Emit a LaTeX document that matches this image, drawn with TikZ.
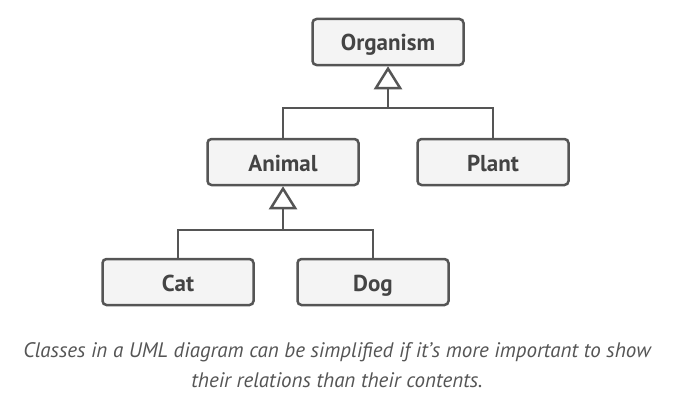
\documentclass[tikz,border=0pt]{standalone}
\usepackage{fontspec}
\setmainfont{PT Sans}
\usetikzlibrary{arrows.meta}

\definecolor{boxline}{HTML}{555555}
\definecolor{boxfill}{HTML}{F4F4F4}
\definecolor{boxtext}{HTML}{444444}
\definecolor{captext}{HTML}{555555}

\tikzset{
    classbox/.style={draw=boxline, fill=boxfill, line width=2.5pt, rounded corners=4pt,
        minimum width=151pt, minimum height=46pt, text=boxtext, inner sep=0pt,
        text height=20pt, text depth=2pt,
        font=\fontsize{23}{26}\selectfont\bfseries},
    link/.style={draw=boxline, line width=2.5pt},
    inherit/.style={link, -{Triangle[open, length=23pt, width=28pt, fill=white]}}
}

\begin{document}
\begin{tikzpicture}[x=1pt, y=-1pt]
        \useasboundingbox (0,0) rectangle (674,404);

        % Классы
        \node[classbox] (organism) at (388,42) {Organism};
        \node[classbox] (animal) at (283,162) {Animal};
        \node[classbox] (plant) at (493,162) {Plant};
        \node[classbox] (cat) at (178,282) {Cat};
        \node[classbox] (dog) at (373,282) {Dog};

        % Узлы ветвления
        \coordinate (top) at (388,108);
        \coordinate (mid) at (283,230);

        % Наследование
        \draw[link] (animal.north) |- (top) -| (plant.north);
        \draw[inherit] (top) -- (organism.south);

        \draw[link] (cat.north) |- (mid) -| (dog.north);
        \draw[inherit] (mid) -- (animal.south);

        % Подпись
        \node[text=captext, align=center, font=\fontsize{21}{30}\selectfont\itshape] (caption) at (337,365)
            {Classes in a UML diagram can be simplified if it’s more important to show\\their relations than their contents.};
    \end{tikzpicture}
\end{document}
